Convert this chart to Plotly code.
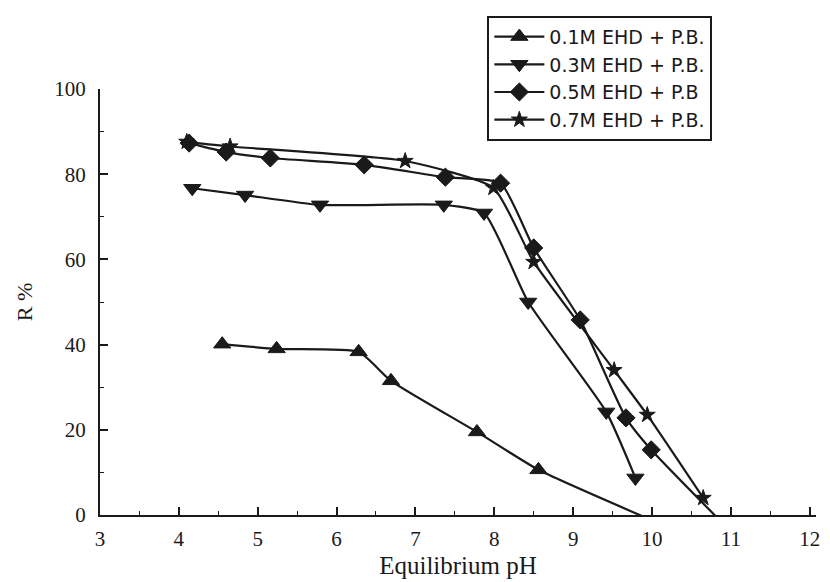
import plotly.graph_objects as go

# Data
ph_01 = [4.55, 5.24, 6.28, 6.69, 7.78, 8.56, 9.88]
r_01 = [40.1, 39.0, 38.3, 31.5, 19.5, 10.6, -0.3]

ph_03 = [4.17, 4.84, 5.79, 7.36, 7.87, 8.43, 9.42, 9.79]
r_03 = [76.7, 75.1, 72.8, 72.8, 70.9, 50.0, 24.2, 8.7]

ph_05 = [4.13, 4.60, 5.16, 6.35, 7.38, 8.08, 8.50, 9.09, 9.67, 9.99, 10.82]
r_05 = [87.3, 85.2, 83.8, 82.2, 79.3, 77.9, 62.7, 45.8, 22.8, 15.3, -0.5]

ph_07 = [4.10, 4.65, 6.87, 7.99, 8.50, 9.52, 9.94, 10.65]
r_07 = [87.6, 86.5, 83.1, 76.8, 59.4, 34.0, 23.5, 4.0]

names = ["0.1M EHD + P.B.", "0.3M EHD + P.B.", "0.5M EHD + P.B", "0.7M EHD + P.B."]
symbols = ["triangle-up", "triangle-down", "diamond", "star"]
sizes = [15, 15, 14, 12]
xs = [ph_01, ph_03, ph_05, ph_07]
ys = [r_01, r_03, r_05, r_07]

ink = "#1a1a1a"
fig = go.Figure()
for i in range(4):
    fig.add_trace(go.Scatter(
        x=xs[i], y=ys[i], name=names[i], mode="lines+markers",
        legendgroup=f"g{i}",
        line=dict(color=ink, width=2.2, shape="spline", smoothing=0.5),
        marker=dict(symbol=symbols[i], size=sizes[i], color=ink,
                    line=dict(color=ink, width=1)),
        cliponaxis=False,
    ))

serif = "Liberation Serif, Times New Roman, serif"
fig.update_layout(
    width=830, height=582,
    margin=dict(l=100, r=14, t=89, b=67),
    paper_bgcolor="white", plot_bgcolor="white",
    showlegend=True,
    legend=dict(
        x=0.541, y=1.172, xanchor="left", yanchor="top",
        bordercolor=ink, borderwidth=2, bgcolor="white",
        font=dict(family="DejaVu Sans, Arial, sans-serif", size=19, color=ink),
        itemwidth=50, tracegroupgap=0,
    ),
    xaxis=dict(
        range=[3, 12.08], tickmode="linear", tick0=3, dtick=1, automargin=False,
        ticks="inside", ticklen=8, tickwidth=1.5, tickcolor=ink,
        minor=dict(ticks="inside", ticklen=4, dtick=0.5, tickcolor=ink, tickwidth=1.2),
        showline=True, linecolor=ink, linewidth=2, showgrid=False, zeroline=False,
        tickfont=dict(family=serif, size=21, color=ink), ticklabelstandoff=4,
        title=dict(text="Equilibrium pH", font=dict(family=serif, size=25, color=ink), standoff=6),
    ),
    yaxis=dict(
        range=[0, 100], tickmode="linear", tick0=0, dtick=20, automargin=False,
        ticks="inside", ticklen=8, tickwidth=1.5, tickcolor=ink,
        minor=dict(ticks="inside", ticklen=4, dtick=10, tickcolor=ink, tickwidth=1.2),
        showline=True, linecolor=ink, linewidth=2, showgrid=False, zeroline=False,
        tickfont=dict(family=serif, size=21, color=ink), ticklabelstandoff=8,
        title=dict(text="R %", font=dict(family=serif, size=22, color=ink), standoff=16),
    ),
)

fig.write_html("out.html")
